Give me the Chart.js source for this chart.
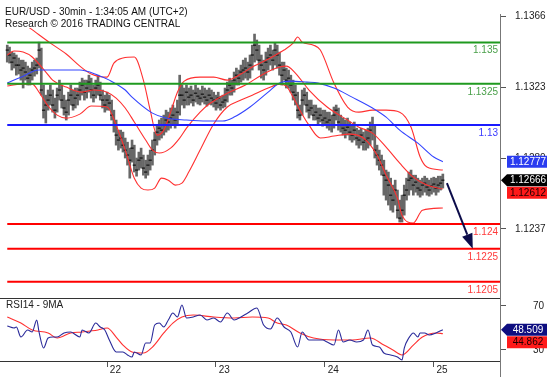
<!DOCTYPE html>
<html>
<head>
<meta charset="utf-8">
<script src="https://cdn.jsdelivr.net/npm/chart.js@4.4.0/dist/chart.umd.min.js"></script>
<style>
  html, body { margin: 0; padding: 0; background: #fff; }
  #wrap { position: relative; width: 557px; height: 377px; overflow: hidden; }
  #main { position: absolute; left: 0; top: 0; }
  #rsi { position: absolute; left: 0; top: 298px; }
</style>
</head>
<body>
<div id="wrap">
  <canvas id="main" width="557" height="298"></canvas>
  <canvas id="rsi" width="557" height="79"></canvas>
</div>
<script>
const FONT = '"Liberation Sans", Arial, sans-serif';

// time axis in hours from 21st 00:00, one bar every 30 minutes
const FIRST_BAR = 2;
const X_MIN = 0.4, X_MAX = 110.6;
const dayTicks = [24, 48, 72, 96];
const dayLabels = ['22', '23', '24', '25'];

const PRICE_MIN = 1.11958, PRICE_MAX = 1.13715;
const priceTicks = [1.1366, 1.1323, 1.1280, 1.1237];
const RSI_MIN = 20, RSI_MAX = 77.27;
const rsiTicks = [30, 70];

const titleLines = ['EUR/USD - 30min - 1:34:05 AM (UTC+2)', 'Research \u00a9 2016 TRADING CENTRAL'];

// 30min bars
const close = [
  1.13454,1.13424,1.13381,1.13406,1.13363,1.13363,1.13333,1.13345,1.13321,1.13284,
  1.13302,1.13333,1.13345,1.13363,1.13454,1.13212,1.13090,1.13121,1.13151,1.13181,
  1.13121,1.13090,1.13181,1.13212,1.13151,1.13103,1.13078,1.13151,1.13181,1.13121,
  1.13163,1.13181,1.13212,1.13242,1.13199,1.13224,1.13260,1.13212,1.13181,1.13224,
  1.13242,1.13181,1.13151,1.13121,1.13151,1.13133,1.13060,1.12999,1.12939,1.12909,
  1.12921,1.12878,1.12848,1.12818,1.12787,1.12860,1.12757,1.12727,1.12787,1.12800,
  1.12739,1.12715,1.12757,1.12787,1.12848,1.12909,1.12957,1.12981,1.12969,1.12999,
  1.13030,1.13018,1.13042,1.13060,1.13030,1.13078,1.13181,1.13181,1.13151,1.13199,
  1.13169,1.13181,1.13151,1.13193,1.13175,1.13163,1.13187,1.13169,1.13151,1.13181,
  1.13163,1.13151,1.13133,1.13163,1.13121,1.13139,1.13151,1.13212,1.13242,1.13224,
  1.13272,1.13302,1.13284,1.13321,1.13333,1.13345,1.13321,1.13363,1.13424,1.13484,
  1.13454,1.13393,1.13363,1.13333,1.13381,1.13406,1.13424,1.13393,1.13454,1.13424,
  1.13363,1.13302,1.13333,1.13272,1.13284,1.13242,1.13199,1.13181,1.13090,1.13060,
  1.13151,1.13181,1.13121,1.13090,1.13103,1.13060,1.13078,1.13042,1.13060,1.13030,
  1.13042,1.13018,1.13030,1.12999,1.13060,1.13090,1.13018,1.12999,1.12981,1.12969,
  1.12987,1.12957,1.12939,1.12969,1.12921,1.12909,1.12939,1.12896,1.12909,1.12921,
  1.12969,1.12999,1.12848,1.12818,1.12787,1.12757,1.12696,1.12666,1.12636,1.12575,
  1.12545,1.12606,1.12484,1.12436,1.12484,1.12575,1.12606,1.12666,1.12678,1.12636,
  1.12654,1.12618,1.12606,1.12636,1.12648,1.12624,1.12606,1.12630,1.12642,1.12618,
  1.12636,1.12648,1.12666
];
const high = [
  1.13484,1.13472,1.13442,1.13436,1.13424,1.13406,1.13393,1.13393,1.13381,1.13357,
  1.13345,1.13381,1.13393,1.13406,1.13502,1.13466,1.13242,1.13181,1.13212,1.13242,
  1.13212,1.13163,1.13224,1.13272,1.13242,1.13181,1.13151,1.13199,1.13242,1.13212,
  1.13224,1.13224,1.13260,1.13284,1.13272,1.13272,1.13302,1.13284,1.13242,1.13272,
  1.13302,1.13260,1.13212,1.13181,1.13199,1.13181,1.13151,1.13090,1.13030,1.12969,
  1.12969,1.12957,1.12921,1.12896,1.12860,1.12909,1.12878,1.12800,1.12836,1.12860,
  1.12818,1.12787,1.12818,1.12848,1.12909,1.12957,1.12999,1.13030,1.13042,1.13060,
  1.13090,1.13078,1.13103,1.13121,1.13103,1.13151,1.13302,1.13242,1.13224,1.13242,
  1.13224,1.13236,1.13212,1.13242,1.13224,1.13212,1.13236,1.13224,1.13212,1.13224,
  1.13212,1.13199,1.13181,1.13199,1.13175,1.13181,1.13224,1.13260,1.13284,1.13272,
  1.13321,1.13345,1.13333,1.13363,1.13393,1.13406,1.13381,1.13424,1.13484,1.13551,
  1.13515,1.13484,1.13424,1.13393,1.13442,1.13466,1.13484,1.13454,1.13496,1.13484,
  1.13442,1.13381,1.13381,1.13345,1.13333,1.13302,1.13272,1.13242,1.13199,1.13121,
  1.13212,1.13224,1.13199,1.13151,1.13151,1.13121,1.13121,1.13103,1.13103,1.13090,
  1.13090,1.13078,1.13078,1.13060,1.13109,1.13121,1.13103,1.13060,1.13042,1.13030,
  1.13042,1.13018,1.12999,1.13018,1.12981,1.12969,1.12981,1.12957,1.12969,1.12981,
  1.13018,1.13048,1.12999,1.12878,1.12848,1.12818,1.12787,1.12727,1.12715,1.12678,
  1.12636,1.12666,1.12606,1.12545,1.12575,1.12636,1.12678,1.12715,1.12727,1.12696,
  1.12696,1.12678,1.12666,1.12678,1.12690,1.12678,1.12666,1.12678,1.12684,1.12678,
  1.12690,1.12690,1.12703
];
const low = [
  1.13381,1.13375,1.13333,1.13345,1.13302,1.13309,1.13272,1.13224,1.13272,1.13242,
  1.13242,1.13272,1.13296,1.13309,1.13345,1.13181,1.13042,1.13012,1.13090,1.13121,
  1.13078,1.13042,1.13078,1.13151,1.13103,1.13060,1.13030,1.13060,1.13121,1.13090,
  1.13103,1.13121,1.13151,1.13181,1.13151,1.13163,1.13199,1.13163,1.13139,1.13163,
  1.13181,1.13151,1.13103,1.13078,1.13090,1.13090,1.13030,1.12957,1.12878,1.12848,
  1.12860,1.12836,1.12800,1.12757,1.12678,1.12775,1.12715,1.12690,1.12727,1.12739,
  1.12696,1.12678,1.12696,1.12727,1.12757,1.12818,1.12878,1.12909,1.12921,1.12939,
  1.12957,1.12969,1.12981,1.12999,1.12981,1.12999,1.13060,1.13121,1.13103,1.13121,
  1.13121,1.13133,1.13115,1.13139,1.13127,1.13121,1.13139,1.13127,1.13115,1.13127,
  1.13121,1.13109,1.13090,1.13103,1.13090,1.13103,1.13109,1.13139,1.13181,1.13181,
  1.13199,1.13242,1.13242,1.13260,1.13272,1.13284,1.13272,1.13284,1.13333,1.13381,
  1.13393,1.13333,1.13284,1.13272,1.13302,1.13333,1.13363,1.13333,1.13363,1.13345,
  1.13302,1.13242,1.13272,1.13224,1.13224,1.13199,1.13151,1.13121,1.13042,1.13030,
  1.13060,1.13121,1.13078,1.13042,1.13060,1.13030,1.13030,1.13006,1.13018,1.12993,
  1.12999,1.12981,1.12969,1.12957,1.12981,1.13030,1.12969,1.12957,1.12939,1.12921,
  1.12939,1.12909,1.12896,1.12909,1.12878,1.12860,1.12878,1.12848,1.12848,1.12860,
  1.12878,1.12909,1.12800,1.12757,1.12727,1.12696,1.12575,1.12545,1.12515,1.12484,
  1.12472,1.12515,1.12436,1.12412,1.12412,1.12454,1.12545,1.12575,1.12606,1.12575,
  1.12593,1.12575,1.12563,1.12575,1.12593,1.12575,1.12569,1.12581,1.12593,1.12575,
  1.12593,1.12606,1.12618
];

// Bollinger bands (at sample points)
const upperX = [2,7,11.5,15,18,20.5,24,25.5,27.5,30,32,33.5,35,36.5,38,39.5,41,44.5,47.5,50.5,53.5,56,60,63,65,66,67,69.5,71,74,77,79.5,82.5,85.5,88.5,91,93,94.5,98];
const upperBand = [1.13684,1.13587,1.13496,1.13430,1.13357,1.13309,1.13290,1.13375,1.13406,1.13412,1.13272,1.13090,1.12939,1.12969,1.13078,1.13199,1.13266,1.13290,1.13290,1.13272,1.13309,1.13351,1.13406,1.13454,1.13496,1.13533,1.13502,1.13484,1.13454,1.13254,1.13109,1.13078,1.13090,1.13090,1.13078,1.12987,1.12806,1.12745,1.12727];
const midX = [2,3.5,5.5,7.5,10.5,12,15,18.5,21,24,26,28,30,32.5,34,35.5,38,40,41.5,44.5,46.5,50.5,54.5,58,62,63.5,65.5,68.5,72.5,77,79.5,82.5,85.5,88.5,91.5,94.5,98];
const midBand = [1.13424,1.13448,1.13442,1.13412,1.13321,1.13272,1.13230,1.13199,1.13212,1.13199,1.13163,1.13103,1.13018,1.12909,1.12848,1.12830,1.12860,1.12921,1.12981,1.13078,1.13127,1.13193,1.13242,1.13302,1.13351,1.13357,1.13315,1.13212,1.13109,1.13030,1.12987,1.12951,1.12866,1.12769,1.12684,1.12636,1.12612];
const lowX = [2,5,7.5,9,11,13,15,18,20.5,24,26,28,30,31.5,33,34.5,36,37.5,39,40.5,42,44.5,47.5,50.5,53.5,56,59.5,62,63.5,65,66.5,68.5,71,74,77.5,80.5,83.5,85.5,88,89,91.5,93.5,98];
const lowBand = [1.13236,1.13248,1.13248,1.13199,1.13115,1.13060,1.13042,1.13066,1.13115,1.13109,1.12999,1.12848,1.12678,1.12618,1.12606,1.12618,1.12678,1.12666,1.12636,1.12648,1.12715,1.12848,1.13006,1.13109,1.13151,1.13181,1.13224,1.13248,1.13236,1.13169,1.13090,1.12999,1.12921,1.12933,1.12945,1.12921,1.12818,1.12696,1.12557,1.12454,1.12406,1.12484,1.12497];

// blue moving average
const maX = [2,5,9,16,18,22,24.5,28,29.5,34,37,41.5,46,49.5,52,55.5,59.5,62,64.5,68,70.5,74,78,82.5,85.5,88.5,92.5,96,98];
const maVal = [1.13254,1.13290,1.13333,1.13333,1.13333,1.13302,1.13272,1.13212,1.13169,1.13072,1.13042,1.13030,1.13024,1.13024,1.13048,1.13109,1.13199,1.13254,1.13266,1.13260,1.13254,1.13224,1.13169,1.13103,1.13048,1.12969,1.12890,1.12806,1.12777];

// support / resistance levels
const levels = [1.135, 1.1325, 1.13, 1.124, 1.1225, 1.1205];
const levelLabels = ['1.135', '1.1325', '1.13', '1.124', '1.1225', '1.1205'];
const levelColors = ['#1f9a1f', '#1f9a1f', '#1a1aff', '#ff0000', '#ff0000', '#ff0000'];
const levelTextColors = ['#4aa04a', '#4aa04a', '#3a3aff', '#ff3a3a', '#ff3a3a', '#ff3a3a'];

const arrowFrom = { x: 98.9, y: 1.12648 };
const arrowTo = { x: 104.6, y: 1.12251 };

// RSI(14) and its 9-period MA
const rsiX = [2,3.5,4,5,6.5,7.5,8.5,9,10,11,12,13,14.5,16,16.5,18,18.5,20,21.5,22.5,23.5,24.5,26,27.5,28.5,29.5,30,31.5,32.5,33.5,34.5,35.5,36.5,37.5,38.5,39.5,40.5,41.5,43,44.5,46,47.5,49,50.5,52,53.5,55,57,58.5,60,61.5,63,64.5,66,67,68.5,70,71.5,72.5,74,75,76,77.5,79,80.5,81.5,82.5,84,85,86.5,88,89,89.5,90.5,91.5,92.5,93,94,95,96.5,98];
const rsiVal = [51.8,50.0,50.9,41.8,48.2,46.4,57.3,46.4,31.8,40.9,41.8,41.8,45.5,46.4,45.5,41.8,48.2,45.5,54.5,50.9,48.2,39.1,28.2,28.2,25.5,23.6,28.2,25.5,36.4,36.4,52.7,54.5,50.9,57.3,63.6,60.0,70.9,59.1,60.0,61.8,57.3,59.1,55.5,63.6,57.3,60.0,63.6,68.2,52.7,49.1,59.1,50.9,46.4,32.7,46.4,39.1,39.1,39.1,37.3,34.5,48.2,37.3,39.1,37.3,39.1,48.2,34.5,32.7,27.3,25.5,23.6,20.9,31.8,40.9,45.5,41.8,45.5,45.5,43.6,45.5,48.509];
const rsiMaX = [2,5,7.5,11,13,16,18.5,22,24,26,27.5,29.5,32,34,36.5,38.5,40.5,43,47.5,52,56,59.5,61.5,63.5,66.5,69.5,74,78,82,85,87,89,91.5,93.5,96.5,98];
const rsiMaVal = [60.0,54.5,48.2,45.5,40.9,45.5,46.4,48.2,50.0,41.8,34.5,28.2,27.3,32.7,45.5,54.5,60.0,61.8,60.0,59.1,60.0,59.1,54.5,52.7,45.5,40.9,39.1,39.1,40.9,34.5,30.0,25.5,34.5,41.8,45.5,44.862];

const barHours = close.map((_, i) => FIRST_BAR + i * 0.5);
const pts = (xs, ys) => xs.map((x, i) => ({ x, y: ys[i] }));

function drawBox(ctx, left, right, yc, fill, textColor, text, pointer) {
  const h = 12;
  ctx.fillStyle = fill;
  ctx.beginPath();
  if (pointer) {
    ctx.moveTo(left - 6, yc);
    ctx.lineTo(left, yc - h / 2);
  } else {
    ctx.moveTo(left, yc - h / 2);
  }
  ctx.lineTo(right, yc - h / 2);
  ctx.lineTo(right, yc + h / 2);
  ctx.lineTo(left, yc + h / 2);
  ctx.closePath();
  ctx.fill();
  ctx.fillStyle = textColor;
  ctx.font = '10px ' + FONT;
  ctx.textAlign = 'center';
  ctx.textBaseline = 'middle';
  ctx.fillText(text, (left + right) / 2 + 1, yc + 0.5);
}

// tick labels drawn by hand so the axis does not pad the plot area
function axisLabels(ctx, scale, values, fmt, x) {
  ctx.font = '10px ' + FONT;
  ctx.fillStyle = '#222';
  ctx.textAlign = 'left';
  ctx.textBaseline = 'middle';
  values.forEach(v => ctx.fillText(fmt(v), x, scale.getPixelForValue(v) + 0.5));
}

const mainDecor = {
  id: 'mainDecor',
  afterDraw(chart) {
    const { ctx, chartArea: a, scales: { x, y } } = chart;
    ctx.save();
    ctx.strokeStyle = '#777';
    ctx.lineWidth = 1;
    ctx.beginPath();
    ctx.moveTo(a.right + 0.5, 14);
    ctx.lineTo(a.right + 0.5, chart.height);
    ctx.stroke();

    axisLabels(ctx, y, priceTicks, v => v.toFixed(4), a.right + 15);

    ctx.font = '10px ' + FONT;
    ctx.textAlign = 'right';
    ctx.textBaseline = 'middle';
    levels.forEach((lv, i) => {
      ctx.fillStyle = levelTextColors[i];
      ctx.fillText(levelLabels[i], a.right - 2, y.getPixelForValue(lv) + 8);
    });

    // forecast arrow
    const fx = x.getPixelForValue(arrowFrom.x), fy = y.getPixelForValue(arrowFrom.y);
    const tx = x.getPixelForValue(arrowTo.x), ty = y.getPixelForValue(arrowTo.y);
    const ang = Math.atan2(ty - fy, tx - fx);
    const bx = tx - 15 * Math.cos(ang), by = ty - 15 * Math.sin(ang);
    ctx.strokeStyle = ctx.fillStyle = '#0c0c4a';
    ctx.lineWidth = 2;
    ctx.beginPath();
    ctx.moveTo(fx, fy);
    ctx.lineTo(bx, by);
    ctx.stroke();
    ctx.beginPath();
    ctx.moveTo(tx, ty);
    ctx.lineTo(bx + 5.5 * Math.sin(ang), by - 5.5 * Math.cos(ang));
    ctx.lineTo(bx - 5.5 * Math.sin(ang), by + 5.5 * Math.cos(ang));
    ctx.closePath();
    ctx.fill();

    // title
    ctx.fillStyle = '#fff';
    ctx.fillRect(0, 0, 184, 28);
    ctx.fillStyle = '#111';
    ctx.font = '10px ' + FONT;
    ctx.textAlign = 'left';
    ctx.fillText(titleLines[0], 5, 12.5);
    ctx.fillText(titleLines[1], 5, 24);

    // last value boxes
    const L = a.right + 7, R = a.right + 47;
    const yMa = y.getPixelForValue(maVal[maVal.length - 1]);
    const yClose = y.getPixelForValue(close[close.length - 1]);
    let yMid = y.getPixelForValue(midBand[midBand.length - 1]);
    if (yMid < yClose + 12.5) yMid = yClose + 12.5;
    drawBox(ctx, L, R, yMa, '#2a3cf0', '#fff', maVal[maVal.length - 1].toFixed(5), false);
    drawBox(ctx, L, R, yMid, '#ff1a1a', '#200000', midBand[midBand.length - 1].toFixed(5), false);
    drawBox(ctx, L, R, yClose, '#000', '#fff', close[close.length - 1].toFixed(5), true);
    ctx.restore();
  }
};

const rsiDecor = {
  id: 'rsiDecor',
  afterDraw(chart) {
    const { ctx, chartArea: a, scales: { y } } = chart;
    ctx.save();
    ctx.strokeStyle = '#333';
    ctx.lineWidth = 1;
    ctx.beginPath();
    ctx.moveTo(0, 0.5); ctx.lineTo(a.right, 0.5);
    ctx.moveTo(0, a.bottom + 0.5); ctx.lineTo(a.right, a.bottom + 0.5);
    ctx.stroke();
    ctx.strokeStyle = '#777';
    ctx.beginPath();
    ctx.moveTo(a.right + 0.5, 0); ctx.lineTo(a.right + 0.5, chart.height);
    ctx.stroke();

    axisLabels(ctx, y, rsiTicks, v => String(v), a.right + 33);

    ctx.font = '10px ' + FONT;
    ctx.fillStyle = '#222';
    ctx.textAlign = 'left';
    ctx.textBaseline = 'middle';
    ctx.fillText('RSI14 - 9MA', 6, 7.5);

    const L = a.right + 7, R = a.right + 47;
    const yR = y.getPixelForValue(rsiVal[rsiVal.length - 1]);
    let yM = y.getPixelForValue(rsiMaVal[rsiMaVal.length - 1]);
    if (yM < yR + 12.5) yM = yR + 12.5;
    drawBox(ctx, L, R, yM, '#ff1a1a', '#200000', rsiMaVal[rsiMaVal.length - 1].toFixed(3), false);
    drawBox(ctx, L, R, yR, '#0e0e80', '#fff', rsiVal[rsiVal.length - 1].toFixed(3), true);
    ctx.restore();
  }
};

const lineDs = (data, color, order, width) => ({
  type: 'line', data, borderColor: color, borderWidth: width || 1,
  pointRadius: 0, pointHoverRadius: 0, cubicInterpolationMode: 'monotone', order
});

const rightAxis = (min, max, ticks) => ({
  position: 'right',
  min,
  max,
  afterFit: s => { s.width = 57; },
  afterBuildTicks: s => { s.ticks = ticks.map(v => ({ value: v })); },
  ticks: { display: false },
  grid: { drawOnChartArea: false, drawTicks: true, tickLength: 6, color: '#555' },
  border: { display: false }
});

new Chart(document.getElementById('main'), {
  type: 'line',
  data: {
    datasets: [
      {
        type: 'bar',
        data: high.map((h, i) => ({ x: barHours[i], y: [low[i], h] })),
        backgroundColor: '#676767',
        barThickness: 2,
        borderWidth: 0,
        order: 10
      },
      {
        type: 'scatter',
        data: close.map((c, i) => ({ x: barHours[i], y: c })),
        pointStyle: 'line',
        pointRadius: 1.6,
        pointHoverRadius: 0,
        borderColor: '#000',
        pointBorderColor: '#000',
        pointBorderWidth: 1,
        order: 9
      },
      lineDs(pts(upperX, upperBand), '#ff3030', 5, 1.1),
      lineDs(pts(midX, midBand), '#ff3030', 5, 1.1),
      lineDs(pts(lowX, lowBand), '#ff3030', 5, 1.1),
      lineDs(pts(maX, maVal), '#3344ff', 4, 1.1),
      ...levels.map((lv, i) => ({
        type: 'line',
        data: [{ x: FIRST_BAR, y: lv }, { x: X_MAX, y: lv }],
        borderColor: levelColors[i],
        borderWidth: 2,
        pointRadius: 0,
        pointHoverRadius: 0,
        order: 1
      }))
    ]
  },
  options: {
    responsive: false,
    animation: false,
    events: [],
    layout: { autoPadding: false, padding: { top: 7, left: 0, right: 0, bottom: 1 } },
    plugins: { legend: { display: false }, tooltip: { enabled: false } },
    scales: {
      x: { type: 'linear', min: X_MIN, max: X_MAX, offset: false, display: false },
      y: rightAxis(PRICE_MIN, PRICE_MAX, priceTicks)
    }
  },
  plugins: [mainDecor]
});

new Chart(document.getElementById('rsi'), {
  type: 'line',
  data: {
    datasets: [
      lineDs(pts(rsiMaX, rsiMaVal), '#ff3030', 2, 1.1),
      lineDs(pts(rsiX, rsiVal), '#2a2a9a', 1, 1.1)
    ]
  },
  options: {
    responsive: false,
    animation: false,
    events: [],
    layout: { autoPadding: false, padding: { top: 0, left: 0, right: 0, bottom: 0 } },
    plugins: { legend: { display: false }, tooltip: { enabled: false } },
    scales: {
      x: {
        type: 'linear',
        min: X_MIN,
        max: X_MAX,
        offset: false,
        afterFit: s => { s.height = 16; },
        afterBuildTicks: s => { s.ticks = dayTicks.map(v => ({ value: v })); },
        ticks: {
          callback: v => ' ' + dayLabels[dayTicks.indexOf(v)],
          align: 'start',
          padding: -3,
          maxRotation: 0,
          autoSkip: false,
          font: { family: FONT, size: 10 },
          color: '#222'
        },
        grid: { drawOnChartArea: false, drawTicks: true, tickLength: 6, color: '#555' },
        border: { display: false }
      },
      y: rightAxis(RSI_MIN, RSI_MAX, rsiTicks)
    }
  },
  plugins: [rsiDecor]
});
</script>
</body>
</html>
